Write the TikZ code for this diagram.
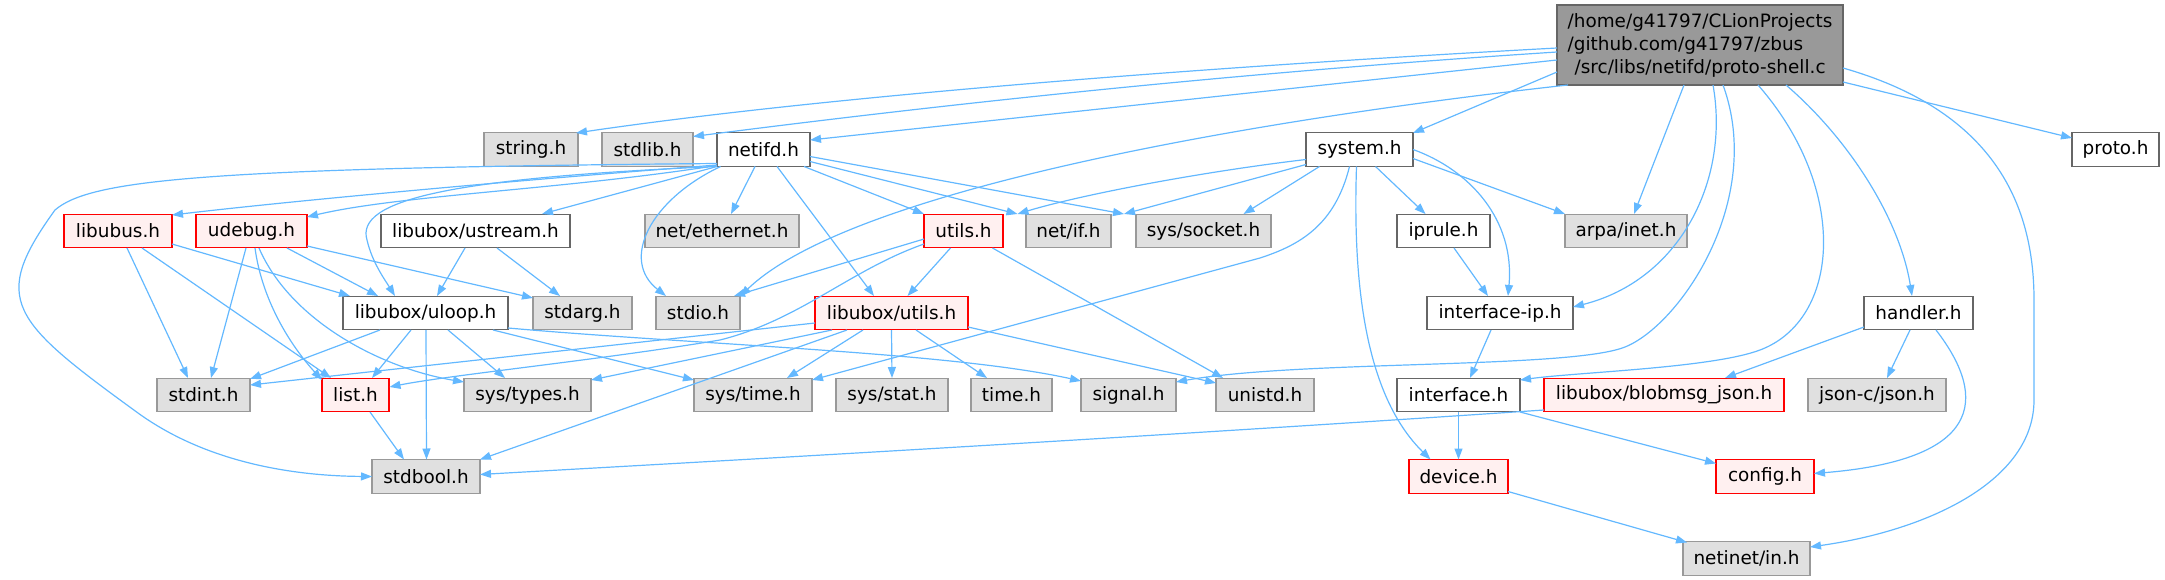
\documentclass[tikz,border=0pt]{standalone}
\usepackage{fontspec}
\setmainfont{DejaVu Sans}
\usetikzlibrary{arrows.meta,calc}
\definecolor{edgeblue}{HTML}{63B8FF}
\definecolor{gborder}{HTML}{999999}
\definecolor{gfill}{HTML}{E0E0E0}
\definecolor{wborder}{HTML}{666666}
\definecolor{rborder}{HTML}{FF0000}
\definecolor{rfill}{HTML}{FFF0F0}
\definecolor{mfill}{HTML}{999999}
\tikzset{
  nd/.style={rectangle, inner sep=0pt, minimum height=33.5pt, line width=1.3pt,
    font=\fontsize{18.4}{23}\selectfont, text=black},
  gnode/.style={nd, draw=gborder, fill=gfill},
  wnode/.style={nd, draw=wborder, fill=white},
  rnode/.style={nd, draw=rborder, fill=rfill},
  mnode/.style={nd, draw=wborder, fill=mfill, align=left, minimum height=80pt},
  edge/.style={draw=edgeblue, line width=1.2pt, -{Triangle[length=11pt,width=8pt]}},
}
\begin{document}
\begin{tikzpicture}[x=1pt,y=-1pt]
\useasboundingbox (0,0) rectangle (2165,580);
% rank 0
\node[mnode, minimum width=286pt] (main) at (1700,45) {/home/g41797/CLionProjects\\/github.com/g41797/zbus\\\hspace{7pt}/src/libs/netifd/proto-shell.c};
% rank 1
\node[gnode, minimum width=94pt] (string) at (531,149.5) {string.h};
\node[gnode, minimum width=91pt] (stdlib) at (647.5,149.5) {stdlib.h};
\node[wnode, minimum width=93pt] (netifd) at (763.5,149.5) {netifd.h};
\node[wnode, minimum width=107pt] (system) at (1359.5,149.5) {system.h};
\node[wnode, minimum width=87pt] (proto) at (2115.5,149.5) {proto.h};
% rank 2
\node[rnode, minimum width=108pt] (libubus) at (118,231) {libubus.h};
\node[rnode, minimum width=111pt] (udebug) at (251.5,231) {udebug.h};
\node[wnode, minimum width=189pt] (ustream) at (475.5,231) {libubox/ustream.h};
\node[gnode, minimum width=154pt] (netether) at (722,231) {net/ethernet.h};
\node[rnode, minimum width=79pt] (utils) at (963.5,231) {utils.h};
\node[gnode, minimum width=85pt] (netif) at (1068.5,231) {net/if.h};
\node[gnode, minimum width=135pt] (socket) at (1203.5,231) {sys/socket.h};
\node[wnode, minimum width=93pt] (iprule) at (1443.5,231) {iprule.h};
\node[gnode, minimum width=122pt] (arpa) at (1626,231) {arpa/inet.h};
% rank 3
\node[wnode, minimum width=165pt] (uloop) at (425.5,313) {libubox/uloop.h};
\node[gnode, minimum width=99pt] (stdarg) at (582.5,313) {stdarg.h};
\node[gnode, minimum width=84pt] (stdio) at (698,313) {stdio.h};
\node[rnode, minimum width=153pt] (luutils) at (891.5,313) {libubox/utils.h};
\node[wnode, minimum width=146pt] (ifip) at (1500,313) {interface-ip.h};
\node[wnode, minimum width=109pt] (handler) at (1918.5,313) {handler.h};
% rank 4
\node[gnode, minimum width=93pt] (stdint) at (203.5,395) {stdint.h};
\node[rnode, minimum width=67pt] (list) at (355.5,395) {list.h};
\node[gnode, minimum width=127pt] (systypes) at (527.5,395) {sys/types.h};
\node[gnode, minimum width=118pt] (systime) at (753,395) {sys/time.h};
\node[gnode, minimum width=112pt] (sysstat) at (892,395) {sys/stat.h};
\node[gnode, minimum width=81pt] (time) at (1011.5,395) {time.h};
\node[gnode, minimum width=95pt] (signal) at (1128.5,395) {signal.h};
\node[gnode, minimum width=98pt] (unistd) at (1265,395) {unistd.h};
\node[wnode, minimum width=123pt] (iface) at (1458.5,395) {interface.h};
\node[rnode, minimum width=240pt] (blobmsg) at (1664,395) {libubox/blobmsg\_json.h};
\node[gnode, minimum width=138pt] (json) at (1877,395) {json-c/json.h};
% rank 5
\node[gnode, minimum width=108pt] (stdbool) at (426,476.5) {stdbool.h};
\node[rnode, minimum width=99pt] (device) at (1458.5,476.5) {device.h};
\node[rnode, minimum width=98pt] (config) at (1765,476.5) {config.h};
% rank 6
\node[gnode, minimum width=127pt] (netinet) at (1746.5,558.5) {netinet/in.h};

% ---- edges from main
\draw[edge] ($(main)+(-143,3)$) .. controls (1150,70) and (800,100) .. ($(string)+(45,-16.5)$);
\draw[edge] ($(main)+(-143,7)$) .. controls (1200,75) and (900,110) .. ($(stdlib)+(45.5,-13)$);
\draw[edge] ($(main)+(-143,15)$) -- ($(netifd)+(46.5,-9.5)$);
\draw[edge] ($(main)+(-143,27)$) -- ($(system)+(53.5,-16.5)$);
\draw[edge] ($(main)+(-132,40)$) .. controls (1250,120) and (850,190) .. ($(stdio)+(42,-16.5)$);
\draw[edge] ($(main)+(-16,40)$) -- ($(arpa)+(8,-17)$);
\draw[edge] ($(main)+(13,40)$) .. controls (1730,180) and (1680,280) .. ($(ifip)+(73,-6)$);
\draw[edge] ($(main)+(23,40)$) .. controls (1765,200) and (1680,325) .. (1625,347) .. controls (1570,369) and (1300,360) .. ($(signal)+(47.5,-13)$);
\draw[edge] ($(main)+(58,40)$) .. controls (1850,190) and (1840,320) .. (1760,350) .. controls (1712,368) and (1580,372) .. ($(iface)+(61.5,-15)$);
\draw[edge] ($(main)+(86,40)$) .. controls (1850,140) and (1900,220) .. ($(handler)+(-6.5,-17)$);
\draw[edge] ($(main)+(143,23)$) .. controls (1990,110) and (2034,200) .. (2034,300) -- (2034,400) .. controls (2034,480) and (1930,530) .. ($(netinet)+(63.5,-11.5)$);
\draw[edge] ($(main)+(143,37)$) -- ($(proto)+(-43.5,-11.5)$);

% ---- edges from netifd.h
\draw[edge] ($(netifd)+(-46.5,15.5)$) .. controls (520,180) and (300,200) .. ($(libubus)+(54,-16)$);
\draw[edge] ($(netifd)+(-46.5,16)$) .. controls (560,190) and (400,195) .. ($(udebug)+(55.5,-14)$);
\draw[edge] ($(netifd)+(-46.5,14)$) .. controls (200,168) and (90,180) .. (55,210) .. controls (-10,300) and (10,320) .. (138,413) .. controls (210,465) and (300,476) .. ($(stdbool)+(-54,0)$);
\draw[edge] ($(netifd)+(-46.5,17)$) .. controls (450,178) and (355,200) .. (367,240) .. controls (372,262) and (385,280) .. ($(uloop)+(-30.5,-17)$);
\draw[edge] ($(netifd)+(-46.5,17)$) -- ($(ustream)+(66.5,-17)$);
\draw[edge] ($(netifd)+(-43,17)$) .. controls (650,200) and (620,260) .. ($(stdio)+(-32,-17)$);
\draw[edge] ($(netifd)+(-8.5,17)$) -- ($(netether)+(9,-17)$);
\draw[edge] ($(netifd)+(13.5,17)$) -- ($(luutils)+(-17.5,-17)$);
\draw[edge] ($(netifd)+(40.5,17)$) -- ($(utils)+(-39.5,-17)$);
\draw[edge] ($(netifd)+(46.5,12)$) -- ($(netif)+(-51,-17)$);
\draw[edge] ($(netifd)+(46.5,7)$) -- ($(socket)+(-79.5,-17)$);

% ---- edges from system.h
\draw[edge] ($(system)+(-53.5,10)$) .. controls (1200,172) and (1080,195) .. ($(netif)+(-51,-17)$);
\draw[edge] ($(system)+(-53.5,15)$) -- ($(socket)+(-79.5,-17)$);
\draw[edge] ($(system)+(-40,17)$) -- ($(socket)+(40,-17)$);
\draw[edge] ($(system)+(-10,17)$) .. controls (1335,225) and (1300,245) .. (1260,258) -- ($(systime)+(59,-15)$);
\draw[edge] ($(system)+(-3,17)$) .. controls (1352,300) and (1370,400) .. ($(device)+(-28,-17)$);
\draw[edge] ($(system)+(16,17)$) -- ($(iprule)+(-18,-17)$);
\draw[edge] ($(system)+(53.5,9)$) -- ($(arpa)+(-61,-17)$);
\draw[edge] ($(system)+(53.5,0)$) .. controls (1470,170) and (1515,220) .. ($(ifip)+(8,-17)$);

% ---- edges from utils.h
\draw[edge] ($(utils)+(-39.5,8)$) -- ($(stdio)+(36,-17)$);
\draw[edge] ($(utils)+(-39.5,13)$) .. controls (850,270) and (800,320) .. (720,340) .. controls (600,360) and (450,375) .. ($(list)+(34,-8)$);
\draw[edge] ($(utils)+(-13,17)$) -- ($(luutils)+(16,-17)$);
\draw[edge] ($(utils)+(29,17)$) -- ($(unistd)+(-42,-17)$);

% ---- edges from libubox/utils.h
\draw[edge] ($(luutils)+(-76.5,10)$) -- ($(stdint)+(46.5,-10)$);
\draw[edge] ($(luutils)+(-59.5,17)$) -- ($(systypes)+(63.5,-15)$);
\draw[edge] ($(luutils)+(-44.5,17)$) -- ($(stdbool)+(54,-17)$);
\draw[edge] ($(luutils)+(-28.5,17)$) -- ($(systime)+(34,-17)$);
\draw[edge] ($(luutils)+(0,17)$) -- ($(sysstat)+(0,-17)$);
\draw[edge] ($(luutils)+(24.5,17)$) -- ($(time)+(-24.5,-17)$);
\draw[edge] ($(luutils)+(76.5,14)$) -- ($(unistd)+(-49,-12)$);

% ---- edges from libubox/uloop.h
\draw[edge] ($(uloop)+(-45.5,17)$) -- ($(stdint)+(46.5,-16)$);
\draw[edge] ($(uloop)+(-14.5,17)$) -- ($(list)+(16.5,-17)$);
\draw[edge] ($(uloop)+(0.5,17)$) -- ($(stdbool)+(0.5,-17)$);
\draw[edge] ($(uloop)+(22.5,17)$) -- ($(systypes)+(-22.5,-17)$);
\draw[edge] ($(uloop)+(67.5,17)$) -- ($(systime)+(-59,-15)$);
\draw[edge] ($(uloop)+(82.5,15)$) .. controls (700,345) and (950,352) .. ($(signal)+(-47.5,-14)$);

% ---- edges from libubus.h
\draw[edge] ($(libubus)+(9,17)$) -- ($(stdint)+(-15.5,-17)$);
\draw[edge] ($(libubus)+(24,17)$) -- ($(list)+(-24.5,-17)$);
\draw[edge] ($(libubus)+(54,13)$) -- ($(uloop)+(-75.5,-17)$);

% ---- edges from udebug.h
\draw[edge] ($(udebug)+(-5.5,17)$) -- ($(stdint)+(7.5,-17)$);
\draw[edge] ($(udebug)+(3.5,17)$) .. controls (262,300) and (290,345) .. ($(list)+(-33.5,-15)$);
\draw[edge] ($(udebug)+(7.5,17)$) .. controls (290,320) and (380,368) .. ($(systypes)+(-63.5,-13)$);
\draw[edge] ($(udebug)+(35.5,17)$) -- ($(uloop)+(-47.5,-17)$);
\draw[edge] ($(udebug)+(55.5,15)$) -- ($(stdarg)+(-49.5,-15)$);

% ---- edges from libubox/ustream.h
\draw[edge] ($(ustream)+(-10.5,17)$) -- ($(uloop)+(11.5,-17)$);
\draw[edge] ($(ustream)+(21.5,17)$) -- ($(stdarg)+(-22.5,-17)$);

% ---- other edges
\draw[edge] ($(list)+(14.5,17)$) -- ($(stdbool)+(-22,-17)$);
\draw[edge] ($(blobmsg)+(-120,15)$) .. controls (1100,440) and (700,462) .. ($(stdbool)+(54,-2)$);
\draw[edge] ($(iprule)+(10.5,17)$) -- ($(ifip)+(-12,-17)$);
\draw[edge] ($(ifip)+(-9,17)$) -- ($(iface)+(11.5,-17)$);
\draw[edge] ($(iface)+(0,17)$) -- ($(device)+(0,-17)$);
\draw[edge] ($(iface)+(61.5,17)$) -- ($(config)+(-49,-13)$);
\draw[edge] ($(handler)+(-54.5,14)$) -- ($(blobmsg)+(61,-17)$);
\draw[edge] ($(handler)+(-8.5,17)$) -- ($(json)+(10,-17)$);
\draw[edge] ($(handler)+(17.5,17)$) .. controls (1990,400) and (1980,460) .. ($(config)+(49,-3)$);
\draw[edge] ($(device)+(49.5,15)$) -- ($(netinet)+(-59.5,-16)$);
\end{tikzpicture}
\end{document}
